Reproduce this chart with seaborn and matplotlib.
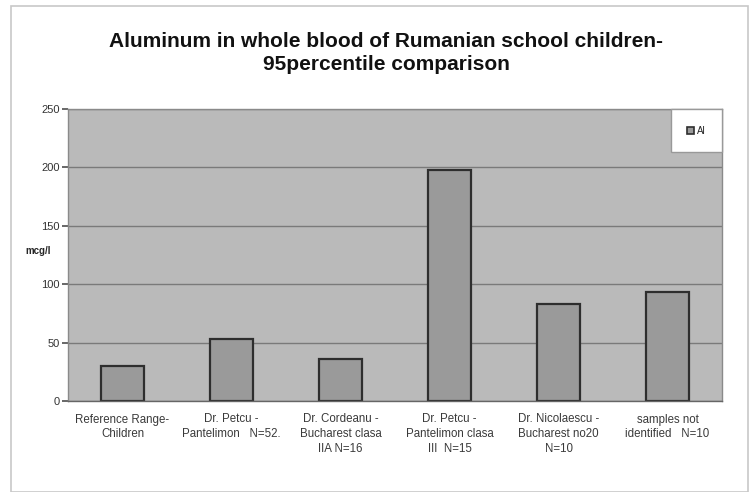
import matplotlib
matplotlib.use("Agg")
import matplotlib.pyplot as plt
import matplotlib.patches as mpatches
import seaborn as sns
import pandas as pd

categories = [
    "Reference Range-\nChildren",
    "Dr. Petcu -\nPantelimon   N=52.",
    "Dr. Cordeanu -\nBucharest clasa\nIIA N=16",
    "Dr. Petcu -\nPantelimon clasa\nIII  N=15",
    "Dr. Nicolaescu -\nBucharest no20\nN=10",
    "samples not\nidentified   N=10",
]
values = [30, 53, 36, 198, 83, 93]
series_name = "Al"
y_ticks = [0, 50, 100, 150, 200, 250]

df = pd.DataFrame({"category": categories, "value": values})

sns.set_theme(style="white")
plt.rcParams["font.family"] = ["Liberation Sans", "DejaVu Sans"]

fig = plt.figure(figsize=(7.52, 4.92), dpi=100)
ax = fig.add_axes([68 / 752, 1 - 401 / 492, (722 - 68) / 752, (401 - 109) / 492])

sns.barplot(data=df, x="category", y="value", ax=ax, color="#9a9a9a",
            width=0.4, edgecolor="#2e2e2e", linewidth=1.6, saturation=1)

ax.set_facecolor("#bababa")
ax.set_ylim(0, 250)
ax.set_yticks(y_ticks)
ax.set_yticklabels([str(t) for t in y_ticks], fontsize=8, color="#333333")
ax.yaxis.grid(True, color="#7a7a7a", linewidth=1.0)
ax.set_axisbelow(True)
ax.tick_params(axis="y", length=4, color="#555555", left=True, pad=2)
ax.tick_params(axis="x", length=0, labelsize=8.3, labelcolor="#3a3a3a", pad=9)
for lbl in ax.get_xticklabels():
    lbl.set_linespacing(1.3)
for s in ax.spines.values():
    s.set_color("#8a8a8a")
    s.set_linewidth(1.0)
ax.spines["bottom"].set_color("#666666")

ax.set_xlabel("")
ax.set_ylabel("mcg/l", rotation=0, fontsize=7, fontweight="bold", va="center")
ax.yaxis.set_label_coords(-0.045, 0.515)

fig.text(386 / 752, 1 - 53 / 492,
         "Aluminum in whole blood of Rumanian school children-\n95percentile comparison",
         ha="center", va="center", fontsize=15, fontweight="bold", linespacing=1.3,
         color="#111111")

handle = mpatches.Patch(facecolor="#9a9a9a", edgecolor="#2e2e2e", linewidth=1.2, label=series_name)
leg = ax.legend(handles=[handle], loc="upper right", fontsize=7, frameon=True,
                fancybox=False, borderpad=1.7, handlelength=0.7, handleheight=0.7,
                handletextpad=0.3, borderaxespad=0.0)
leg.get_frame().set_facecolor("white")
leg.get_frame().set_edgecolor("#999999")
leg.get_frame().set_alpha(1)

# outer chart border
fig.add_artist(mpatches.Rectangle((11 / 752, 0), (748 - 11) / 752, 1 - 6 / 492,
                                  transform=fig.transFigure, fill=False,
                                  edgecolor="#c8c8c8", linewidth=1.2))

fig.savefig("out.png", dpi=100)
